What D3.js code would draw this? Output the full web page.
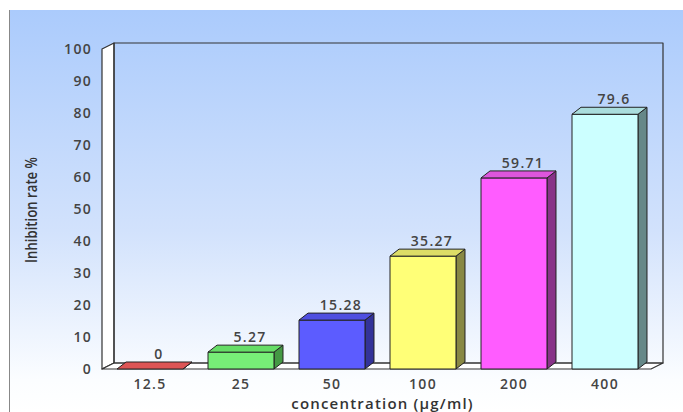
<!DOCTYPE html>
<html>
<head>
<meta charset="utf-8">
<script src="https://cdn.jsdelivr.net/npm/d3@7"></script>
<style>
  body { margin: 0; background: #fff; }
  .tick-label { font-family: "Open Sans", sans-serif; font-size: 14px; font-weight: 600; fill: #444; letter-spacing: 1.3px; }
  .value-label { font-family: "Open Sans", sans-serif; font-size: 14px; font-weight: 600; fill: #444; letter-spacing: 1.3px; }
  .axis-title { font-family: "Open Sans", sans-serif; font-weight: 600; fill: #333; }
</style>
</head>
<body>
<div class="chart"></div>
<script>
// data
const categories = ["12.5", "25", "50", "100", "200", "400"];
const values = [0, 5.27, 15.28, 35.27, 59.71, 79.6];
const yTicks = [0, 10, 20, 30, 40, 50, 60, 70, 80, 90, 100];
const frontColors = ["#e05555", "#77ee77", "#5c5cff", "#ffff77", "#ff5cff", "#ccffff"];
const sideColors = ["#993333", "#449944", "#333399", "#888844", "#883388", "#668888"];
const topColors = ["#dd5555", "#66dd66", "#4f4fe0", "#dddd66", "#dd55dd", "#aadddd"];

const WIDTH = 683, HEIGHT = 412;
const CHART = { LEFT: 102, RIGHT: 648, BOTTOM: 369, TOP: 49 };
const WALL = { DX: 12, DY: 6 };
const BAR = { DX: 9, DY: 7 };

const svg = d3.select(".chart").append("svg").attr("width", WIDTH).attr("height", HEIGHT);

// background gradient
const grad = svg.append("defs").append("linearGradient")
  .attr("id", "bg").attr("x1", 0).attr("y1", 0).attr("x2", 0).attr("y2", 1);
grad.append("stop").attr("offset", "0%").attr("stop-color", "#abcbfc");
grad.append("stop").attr("offset", "55%").attr("stop-color", "#d2e2fc");
grad.append("stop").attr("offset", "92%").attr("stop-color", "#fbfdff");
grad.append("stop").attr("offset", "100%").attr("stop-color", "#ffffff");

svg.append("rect")
  .attr("x", 9).attr("y", 10).attr("width", WIDTH - 9).attr("height", HEIGHT - 10)
  .attr("fill", "url(#bg)");
svg.append("line")
  .attr("x1", 9.5).attr("x2", 9.5).attr("y1", 10).attr("y2", HEIGHT)
  .attr("stroke", "#888").attr("stroke-width", 1);

// scales
const x = d3.scaleBand().domain(categories).range([CHART.LEFT, CHART.RIGHT]).padding(0);
const y = d3.scaleLinear().domain([0, 100]).range([CHART.BOTTOM, CHART.TOP]);
const barOffset = x.bandwidth() * 0.165;
const barWidth = x.bandwidth() * 0.725;

const y0 = y(0), yTop = y(100);
const xl = CHART.LEFT, xr = CHART.RIGHT + 3;
const frame = svg.append("g").attr("stroke", "#333").attr("stroke-width", 1.2).attr("stroke-linejoin", "round");

// left wall
frame.append("path")
  .attr("fill", "#fff")
  .attr("d", `M${xl},${y0} L${xl},${yTop} L${xl + WALL.DX},${yTop - WALL.DY} L${xl + WALL.DX},${y0 - WALL.DY} Z`);

// floor
frame.append("path")
  .attr("fill", "#fff")
  .attr("d", `M${xl},${y0} L${xr},${y0} L${xr + WALL.DX},${y0 - WALL.DY} L${xl + WALL.DX},${y0 - WALL.DY} Z`);

// back wall
frame.append("rect")
  .attr("fill", "none")
  .attr("x", xl + WALL.DX).attr("y", yTop - WALL.DY)
  .attr("width", xr - xl).attr("height", y0 - yTop);

// y tick labels
svg.append("g").selectAll("text")
  .data(yTicks)
  .join("text")
  .attr("class", "tick-label")
  .attr("x", CHART.LEFT - 10)
  .attr("y", d => y(d))
  .attr("dy", "0.36em")
  .attr("text-anchor", "end")
  .text(d => d);

// bars
const bars = svg.append("g")
  .attr("stroke", "#222").attr("stroke-width", 1).attr("stroke-linejoin", "round")
  .selectAll("g")
  .data(values)
  .join("g");

bars.append("path")
  .attr("fill", (d, i) => sideColors[i])
  .attr("d", (d, i) => {
    const bx = x(categories[i]) + barOffset + barWidth, by = y(d);
    return `M${bx},${by} L${bx + BAR.DX},${by - BAR.DY} L${bx + BAR.DX},${y0 - BAR.DY} L${bx},${y0} Z`;
  });

bars.append("rect")
  .attr("fill", (d, i) => frontColors[i])
  .attr("x", (d, i) => x(categories[i]) + barOffset)
  .attr("y", d => y(d))
  .attr("width", barWidth)
  .attr("height", d => y0 - y(d));

bars.append("path")
  .attr("fill", (d, i) => topColors[i])
  .attr("d", (d, i) => {
    const bx = x(categories[i]) + barOffset, by = y(d);
    return `M${bx},${by} L${bx + BAR.DX},${by - BAR.DY} L${bx + barWidth + BAR.DX},${by - BAR.DY} L${bx + barWidth},${by} Z`;
  });

// value labels
svg.append("g").selectAll("text")
  .data(values)
  .join("text")
  .attr("class", "value-label")
  .attr("x", (d, i) => x(categories[i]) + barOffset + barWidth / 2 + BAR.DX)
  .attr("y", d => y(d) - 10)
  .attr("text-anchor", "middle")
  .text(d => d);

// x tick labels
svg.append("g").selectAll("text")
  .data(categories)
  .join("text")
  .attr("class", "tick-label")
  .attr("x", d => x(d) + barOffset + barWidth / 2)
  .attr("y", y0 + 20)
  .attr("text-anchor", "middle")
  .text(d => d);

// axis titles
svg.append("text")
  .attr("class", "axis-title")
  .attr("x", (xl + xr + WALL.DX) / 2)
  .attr("y", 409)
  .attr("text-anchor", "middle")
  .attr("font-size", 15)
  .attr("letter-spacing", 1.2)
  .text("concentration (μg/ml)");

svg.append("text")
  .attr("class", "axis-title")
  .attr("transform", "translate(37,210) rotate(-90)")
  .attr("text-anchor", "middle")
  .attr("font-size", 16)
  .attr("font-family", "'DejaVu Sans Condensed', sans-serif")
  .attr("font-weight", "bold")
  .attr("textLength", 106)
  .attr("lengthAdjust", "spacingAndGlyphs")
  .text("Inhibition rate %");
</script>
</body>
</html>
